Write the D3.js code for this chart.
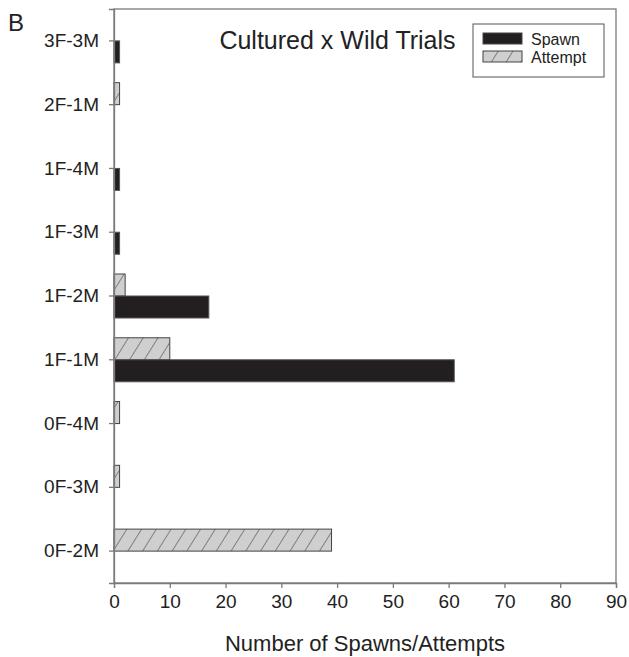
<!DOCTYPE html>
<html>
<head>
<meta charset="utf-8">
<script src="https://cdn.jsdelivr.net/npm/d3@7"></script>
<style>
  body { margin: 0; background: #fff; }
  svg text { font-family: "Liberation Sans", Arial, sans-serif; fill: #222; }
</style>
</head>
<body>
<div id="chart"></div>
<script>
const categories = ["3F-3M", "2F-1M", "1F-4M", "1F-3M", "1F-2M", "1F-1M", "0F-4M", "0F-3M", "0F-2M"];
const spawnValues = [1, 0, 1, 1, 17, 61, 0, 0, 0];
const attemptValues = [0, 1, 0, 0, 2, 10, 1, 1, 39];
const xTicks = [0, 10, 20, 30, 40, 50, 60, 70, 80, 90];

const w = 629, h = 657;
const plotLeft = 114, plotRight = 616, plotTop = 9, plotBottom = 583;
const axisColor = "#7a7a7a";

const svg = d3.select("#chart").append("svg")
    .attr("width", w)
    .attr("height", h);

const defs = svg.append("defs");
defs.append("pattern")
    .attr("id", "hatch")
    .attr("patternUnits", "userSpaceOnUse")
    .attr("width", 12.5)
    .attr("height", 12)
    .attr("patternTransform", "rotate(32)")
    .call(p => {
        p.append("rect").attr("width", 12.5).attr("height", 12).attr("fill", "#cfcfcf");
        p.append("line").attr("x1", 0).attr("y1", 0).attr("x2", 0).attr("y2", 12)
            .attr("stroke", "#333").attr("stroke-width", 1);
    });

const x = d3.scaleLinear().domain([0, 90]).range([plotLeft, plotRight]);
const y = d3.scaleBand().domain(categories).range([plotTop, plotBottom]).padding(0);
const barH = y.bandwidth() * 0.345;

const rows = categories.map((c, i) => ({ cat: c, spawn: spawnValues[i], attempt: attemptValues[i] }));

// attempt bars sit above the tick, spawn bars below
svg.selectAll(".attempt")
    .data(rows.filter(d => d.attempt > 0))
    .enter().append("rect")
    .attr("class", "attempt")
    .attr("x", x(0))
    .attr("y", d => y(d.cat) + y.bandwidth() / 2 - barH)
    .attr("width", d => x(d.attempt) - x(0))
    .attr("height", barH)
    .attr("fill", "url(#hatch)")
    .attr("stroke", "#444")
    .attr("stroke-width", 1);

svg.selectAll(".spawn")
    .data(rows.filter(d => d.spawn > 0))
    .enter().append("rect")
    .attr("class", "spawn")
    .attr("x", x(0))
    .attr("y", d => y(d.cat) + y.bandwidth() / 2)
    .attr("width", d => x(d.spawn) - x(0))
    .attr("height", barH)
    .attr("fill", "#231f20")
    .attr("stroke", "#555")
    .attr("stroke-width", 1);

// frame
svg.append("rect")
    .attr("x", plotLeft).attr("y", plotTop)
    .attr("width", plotRight - plotLeft).attr("height", plotBottom - plotTop)
    .attr("fill", "none")
    .attr("stroke", axisColor)
    .attr("stroke-width", 1.3);

const xAxis = svg.append("g")
    .attr("transform", `translate(0,${plotBottom})`)
    .call(d3.axisBottom(x).tickValues(xTicks).tickSize(5).tickPadding(7));
xAxis.selectAll("text").style("font-size", "19px");

const yAxis = svg.append("g")
    .attr("transform", `translate(${plotLeft},0)`)
    .call(d3.axisLeft(y).tickSize(5).tickPadding(10));
yAxis.selectAll("text").style("font-size", "19px");

[xAxis, yAxis].forEach(a => {
    a.select(".domain").attr("stroke", axisColor).attr("stroke-width", 1.3);
    a.selectAll(".tick line").attr("stroke", axisColor).attr("stroke-width", 1.3);
});

svg.append("text")
    .attr("x", 365)
    .attr("y", 651)
    .attr("text-anchor", "middle")
    .style("font-size", "22px")
    .text("Number of Spawns/Attempts");

svg.append("text")
    .attr("x", 337.5)
    .attr("y", 49)
    .attr("text-anchor", "middle")
    .style("font-size", "25px")
    .text("Cultured x Wild Trials");

svg.append("text")
    .attr("x", 8)
    .attr("y", 31)
    .style("font-size", "24px")
    .text("B");

// legend
const legend = svg.append("g").attr("transform", "translate(473,24)");
legend.append("rect")
    .attr("width", 131).attr("height", 53)
    .attr("fill", "#fff")
    .attr("stroke", "#555")
    .attr("stroke-width", 1);
const legendItems = [
    { label: "Spawn", fill: "#231f20" },
    { label: "Attempt", fill: "url(#hatch)" }
];
const li = legend.selectAll(".li")
    .data(legendItems)
    .enter().append("g")
    .attr("transform", (d, i) => `translate(10,${9 + i * 18})`);
li.append("rect")
    .attr("width", 39).attr("height", 11)
    .attr("fill", d => d.fill)
    .attr("stroke", "#444")
    .attr("stroke-width", 1);
li.append("text")
    .attr("x", 48)
    .attr("y", 12)
    .style("font-size", "16px")
    .text(d => d.label);
</script>
</body>
</html>
